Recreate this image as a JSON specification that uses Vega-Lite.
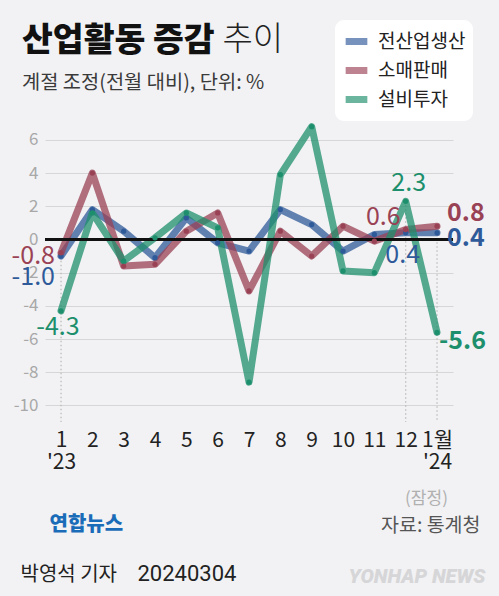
{
  "$schema": "https://vega.github.io/schema/vega-lite/v6.json",
  "width": 408,
  "height": 302,
  "autosize": "none",
  "padding": {"left": 45, "top": 120, "right": 46, "bottom": 174},
  "background": "#f2f2f4",
  "title": {
    "text": "산업활동 증감",
    "subtitle": "계절 조정(전월 대비), 단위: %",
    "anchor": "start",
    "frame": "group",
    "dx": -23,
    "dy": 74,
    "offset": 0,
    "fontSize": 33.5,
    "fontWeight": 900,
    "color": "#111",
    "subtitleFontSize": 19.8,
    "subtitleColor": "#3a3a3a",
    "subtitlePadding": 15
  },
  "data": {
    "values": [
      {"month": 1, "series": "전산업생산", "value": -1.0},
      {"month": 2, "series": "전산업생산", "value": 1.8},
      {"month": 3, "series": "전산업생산", "value": 0.5},
      {"month": 4, "series": "전산업생산", "value": -1.1},
      {"month": 5, "series": "전산업생산", "value": 1.3},
      {"month": 6, "series": "전산업생산", "value": -0.2},
      {"month": 7, "series": "전산업생산", "value": -0.7},
      {"month": 8, "series": "전산업생산", "value": 1.8},
      {"month": 9, "series": "전산업생산", "value": 0.9},
      {"month": 10, "series": "전산업생산", "value": -0.7},
      {"month": 11, "series": "전산업생산", "value": 0.3},
      {"month": 12, "series": "전산업생산", "value": 0.4},
      {"month": 13, "series": "전산업생산", "value": 0.4},
      {"month": 1, "series": "소매판매", "value": -0.8},
      {"month": 2, "series": "소매판매", "value": 4.0},
      {"month": 3, "series": "소매판매", "value": -1.6},
      {"month": 4, "series": "소매판매", "value": -1.5},
      {"month": 5, "series": "소매판매", "value": 0.5},
      {"month": 6, "series": "소매판매", "value": 1.6},
      {"month": 7, "series": "소매판매", "value": -3.1},
      {"month": 8, "series": "소매판매", "value": 0.5},
      {"month": 9, "series": "소매판매", "value": -1.0},
      {"month": 10, "series": "소매판매", "value": 0.8},
      {"month": 11, "series": "소매판매", "value": -0.1},
      {"month": 12, "series": "소매판매", "value": 0.6},
      {"month": 13, "series": "소매판매", "value": 0.8},
      {"month": 1, "series": "설비투자", "value": -4.3},
      {"month": 2, "series": "설비투자", "value": 1.6},
      {"month": 3, "series": "설비투자", "value": -1.3},
      {"month": 4, "series": "설비투자", "value": 0.1},
      {"month": 5, "series": "설비투자", "value": 1.6},
      {"month": 6, "series": "설비투자", "value": 0.7},
      {"month": 7, "series": "설비투자", "value": -8.6},
      {"month": 8, "series": "설비투자", "value": 3.9},
      {"month": 9, "series": "설비투자", "value": 6.8},
      {"month": 10, "series": "설비투자", "value": -1.9},
      {"month": 11, "series": "설비투자", "value": -2.0},
      {"month": 12, "series": "설비투자", "value": 2.3},
      {"month": 13, "series": "설비투자", "value": -5.6}
    ]
  },
  "layer": [
    {
      "transform": [{"filter": "datum.month == 1 || datum.month >= 12"}],
      "mark": {"type": "rule", "color": "#b8b8b8", "strokeWidth": 1.2, "strokeDash": [1.5, 2.5]},
      "encoding": {
        "x": {
          "field": "month", "type": "quantitative",
          "axis": {
            "orient": "bottom", "labels": false, "ticks": false, "domain": false, "grid": false,
            "title": "YONHAP NEWS", "titleX": 440, "titleY": 160, "titleAlign": "right", "titleBaseline": "alphabetic",
            "titleFont": "Roboto", "titleFontSize": 20, "titleFontStyle": "italic", "titleFontWeight": 900, "titleColor": "#d6d6d8"
          }
        },
        "y": {
          "aggregate": "max", "field": "value", "type": "quantitative",
          "axis": {
            "orient": "left", "labels": false, "ticks": false, "domain": false, "grid": false,
            "title": "20240304", "titleAngle": 0, "titleX": 92, "titleY": 460, "titleAlign": "left", "titleBaseline": "alphabetic",
            "titleFont": "Roboto", "titleFontSize": 22, "titleFontWeight": "normal", "titleColor": "#222"
          }
        },
        "y2": {"datum": -11}
      }
    },
    {
      "mark": {"type": "line", "strokeWidth": 7, "opacity": 0.75, "strokeCap": "round", "strokeJoin": "round"},
      "encoding": {
        "x": {
          "field": "month", "type": "quantitative",
          "scale": {"domain": [0.489, 13.51], "nice": false, "zero": false},
          "axis": {
            "orient": "bottom", "values": [1, 2, 3, 4, 5, 6, 7, 8, 9, 10, 11, 12, 13], "format": "d",
            "labelExpr": "datum.value == 1 ? ['1', \"'23\"] : (datum.value == 13 ? ['1월', \"'24\"] : datum.label)",
            "labelFontSize": 21, "labelColor": "#222", "labelPadding": 7, "labelLineHeight": 22.5,
            "labelBaseline": "top", "labelOverlap": false, "labelFlush": false,
            "ticks": false, "domain": false, "grid": false,
            "title": "(잠정)", "titleX": 381, "titleY": 81, "titleAlign": "center", "titleBaseline": "alphabetic",
            "titleFontSize": 17, "titleFontWeight": "normal", "titleColor": "#b0b0b0"
          }
        },
        "y": {
          "field": "value", "type": "quantitative",
          "scale": {"domain": [-11, 7.2], "nice": false, "zero": false},
          "axis": {
            "orient": "left", "values": [-10, -8, -6, -4, -2, 0, 2, 4, 6],
            "labelFontSize": 17, "labelColor": "#a8a8a8", "labelPadding": 7,
            "ticks": false, "domain": false, "grid": true, "gridColor": "#d6d6d6", "gridWidth": 1.2,
            "title": "추이", "titleAngle": 0, "titleX": 177, "titleY": -71, "titleAlign": "left", "titleBaseline": "alphabetic",
            "titleFontSize": 33, "titleFontWeight": 300, "titleColor": "#222"
          }
        },
        "color": {
          "field": "series", "type": "nominal",
          "scale": {"domain": ["전산업생산", "소매판매", "설비투자"], "range": ["#2f5a9a", "#9a4255", "#1d8f6c"]},
          "legend": {
            "orient": "none", "legendX": 290, "legendY": -100, "title": null,
            "fillColor": "white", "cornerRadius": 9, "padding": 7,
            "symbolType": "stroke", "symbolSize": 470, "symbolStrokeWidth": 7, "symbolOpacity": 0.65,
            "rowPadding": 0, "labelOffset": 7, "labelFontSize": 19, "labelColor": "#222"
          }
        }
      }
    },
    {
      "mark": {"type": "rule", "color": "#111", "strokeWidth": 1.5},
      "encoding": {
        "y": {
          "datum": 0, "type": "quantitative",
          "axis": {
            "orient": "left", "labels": false, "ticks": false, "domain": false, "grid": false,
            "title": "박영석 기자", "titleAngle": 0, "titleX": -25, "titleY": 460, "titleAlign": "left", "titleBaseline": "alphabetic",
            "titleFontSize": 20, "titleFontWeight": "normal", "titleColor": "#222"
          }
        }
      }
    },
    {
      "mark": {"type": "circle", "size": 28, "opacity": 1},
      "encoding": {
        "x": {
          "field": "month", "type": "quantitative",
          "axis": {
            "orient": "bottom", "labels": false, "ticks": false, "domain": false, "grid": false,
            "title": "자료: 통계청", "titleX": 435, "titleY": 109, "titleAlign": "right", "titleBaseline": "alphabetic",
            "titleFontSize": 19.5, "titleFontWeight": "normal", "titleColor": "#555"
          }
        },
        "y": {
          "field": "value", "type": "quantitative",
          "axis": {
            "orient": "left", "labels": false, "ticks": false, "domain": false, "grid": false,
            "title": "연합뉴스", "titleAngle": 0, "titleX": 4, "titleY": 410, "titleAlign": "left", "titleBaseline": "alphabetic",
            "titleFontSize": 20, "titleFontWeight": 900, "titleColor": "#1b6cb8"
          }
        },
        "color": {"field": "series", "type": "nominal", "legend": null}
      }
    },
    {
      "transform": [{"filter": "datum.month == 1 && datum.series == '소매판매'"}],
      "mark": {"type": "text", "align": "right", "baseline": "middle", "dx": -6, "dy": 3, "fontSize": 25},
      "encoding": {
        "x": {"field": "month", "type": "quantitative", "axis": null},
        "y": {"field": "value", "type": "quantitative", "axis": null},
        "text": {"field": "value", "type": "quantitative", "format": ".1f"},
        "color": {"field": "series", "type": "nominal", "legend": null}
      }
    },
    {
      "transform": [{"filter": "datum.month == 1 && datum.series == '전산업생산'"}],
      "mark": {"type": "text", "align": "right", "baseline": "middle", "dx": -6, "dy": 21, "fontSize": 25},
      "encoding": {
        "x": {"field": "month", "type": "quantitative", "axis": null},
        "y": {"field": "value", "type": "quantitative", "axis": null},
        "text": {"field": "value", "type": "quantitative", "format": ".1f"},
        "color": {"field": "series", "type": "nominal", "legend": null}
      }
    },
    {
      "transform": [{"filter": "datum.month == 1 && datum.series == '설비투자'"}],
      "mark": {"type": "text", "align": "center", "baseline": "middle", "dx": -3, "dy": 16, "fontSize": 25},
      "encoding": {
        "x": {"field": "month", "type": "quantitative", "axis": null},
        "y": {"field": "value", "type": "quantitative", "axis": null},
        "text": {"field": "value", "type": "quantitative", "format": ".1f"},
        "color": {"field": "series", "type": "nominal", "legend": null}
      }
    },
    {
      "transform": [{"filter": "datum.month == 12 && datum.series == '소매판매'"}],
      "mark": {"type": "text", "align": "right", "baseline": "middle", "dx": -5, "dy": -13, "fontSize": 25},
      "encoding": {
        "x": {"field": "month", "type": "quantitative", "axis": null},
        "y": {"field": "value", "type": "quantitative", "axis": null},
        "text": {"field": "value", "type": "quantitative", "format": ".1f"},
        "color": {"field": "series", "type": "nominal", "legend": null}
      }
    },
    {
      "transform": [{"filter": "datum.month == 12 && datum.series == '전산업생산'"}],
      "mark": {"type": "text", "align": "center", "baseline": "middle", "dx": -3, "dy": 22, "fontSize": 25},
      "encoding": {
        "x": {"field": "month", "type": "quantitative", "axis": null},
        "y": {"field": "value", "type": "quantitative", "axis": null},
        "text": {"field": "value", "type": "quantitative", "format": ".1f"},
        "color": {"field": "series", "type": "nominal", "legend": null}
      }
    },
    {
      "transform": [{"filter": "datum.month == 12 && datum.series == '설비투자'"}],
      "mark": {"type": "text", "align": "center", "baseline": "middle", "dx": 3, "dy": -18, "fontSize": 25},
      "encoding": {
        "x": {"field": "month", "type": "quantitative", "axis": null},
        "y": {"field": "value", "type": "quantitative", "axis": null},
        "text": {"field": "value", "type": "quantitative", "format": ".1f"},
        "color": {"field": "series", "type": "nominal", "legend": null}
      }
    },
    {
      "transform": [{"filter": "datum.month == 13 && datum.series == '소매판매'"}],
      "mark": {"type": "text", "align": "left", "baseline": "middle", "dx": 10, "dy": -13, "fontSize": 25, "fontWeight": "bold"},
      "encoding": {
        "x": {"field": "month", "type": "quantitative", "axis": null},
        "y": {"field": "value", "type": "quantitative", "axis": null},
        "text": {"field": "value", "type": "quantitative", "format": ".1f"},
        "color": {"field": "series", "type": "nominal", "legend": null}
      }
    },
    {
      "transform": [{"filter": "datum.month == 13 && datum.series == '전산업생산'"}],
      "mark": {"type": "text", "align": "left", "baseline": "middle", "dx": 10, "dy": 5, "fontSize": 25, "fontWeight": "bold"},
      "encoding": {
        "x": {"field": "month", "type": "quantitative", "axis": null},
        "y": {"field": "value", "type": "quantitative", "axis": null},
        "text": {"field": "value", "type": "quantitative", "format": ".1f"},
        "color": {"field": "series", "type": "nominal", "legend": null}
      }
    },
    {
      "transform": [{"filter": "datum.month == 13 && datum.series == '설비투자'"}],
      "mark": {"type": "text", "align": "left", "baseline": "middle", "dx": 2, "dy": 9, "fontSize": 25, "fontWeight": "bold"},
      "encoding": {
        "x": {"field": "month", "type": "quantitative", "axis": null},
        "y": {"field": "value", "type": "quantitative", "axis": null},
        "text": {"field": "value", "type": "quantitative", "format": ".1f"},
        "color": {"field": "series", "type": "nominal", "legend": null}
      }
    }
  ],
  "resolve": {"axis": {"x": "independent", "y": "independent"}},
  "config": {
    "font": "Noto Sans CJK KR",
    "view": {"stroke": null},
    "locale": {
      "number": {"decimal": ".", "thousands": ",", "grouping": [3], "currency": ["", ""], "minus": "-"}
    }
  }
}
